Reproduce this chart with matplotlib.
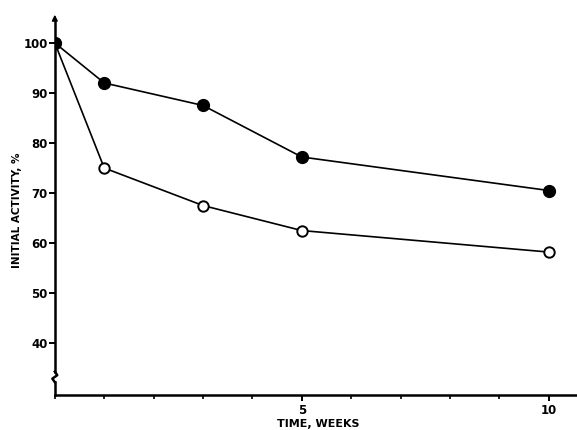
import numpy as np
import matplotlib.pyplot as plt

# data
weeks = [0, 1, 3, 5, 10]
filled = [100, 92, 87.5, 77.2, 70.5]
open_ = [100, 75, 67.5, 62.5, 58.2]

plt.rcParams['font.family'] = ['DejaVu Sans']
plt.rcParams['font.weight'] = 'bold'

fig = plt.figure(figsize=(5.77, 4.30), dpi=100)
ax = fig.add_axes([0.095, 0.081, 0.905, 0.889])

ax.plot(weeks, open_, '-o', color='black', mfc='white', mec='black',
        ms=7.5, mew=1.4, lw=1.2, zorder=3)
ax.plot(weeks, filled, '-o', color='black', ms=8.5, lw=1.2, zorder=4)

ax.set_xlim(0, 10.57)
ax.set_ylim(29.6, 106)

for s in ['top', 'right', 'left']:
    ax.spines[s].set_visible(False)
ax.spines['bottom'].set_linewidth(1.8)

# left axis with break and arrow
ax.plot([0, 0], [29.6, 32.2], color='black', lw=1.8, clip_on=False)
ax.plot([0, -0.05, 0.05, 0], [32.2, 32.9, 33.6, 34.3], color='black',
        lw=1.8, clip_on=False)
ax.plot([0, 0], [34.3, 104.5], color='black', lw=1.8, clip_on=False)
ax.annotate('', xy=(0, 106.2), xytext=(0, 104), xycoords='data',
            arrowprops=dict(arrowstyle='-|>', color='black', lw=1.2,
                            mutation_scale=8), annotation_clip=False)

ax.set_yticks([40, 50, 60, 70, 80, 90, 100])
ax.set_xticks([5, 10])
ax.set_xticks(range(0, 11), minor=True)
ax.tick_params(axis='both', which='major', labelsize=8.5, length=4, width=1.4,
               pad=1)
ax.tick_params(axis='x', which='minor', length=3, width=1.2)
ax.tick_params(axis='x', which='major', pad=2)

ax.set_xlabel('TIME, WEEKS', fontsize=8, fontweight='bold')
ax.set_ylabel('INITIAL ACTIVITY, %', fontsize=7.5, fontweight='bold')
ax.xaxis.set_label_coords(0.504, -0.062)
ax.yaxis.set_label_coords(-0.063, 0.484)

plt.savefig('out.png', dpi=100)
